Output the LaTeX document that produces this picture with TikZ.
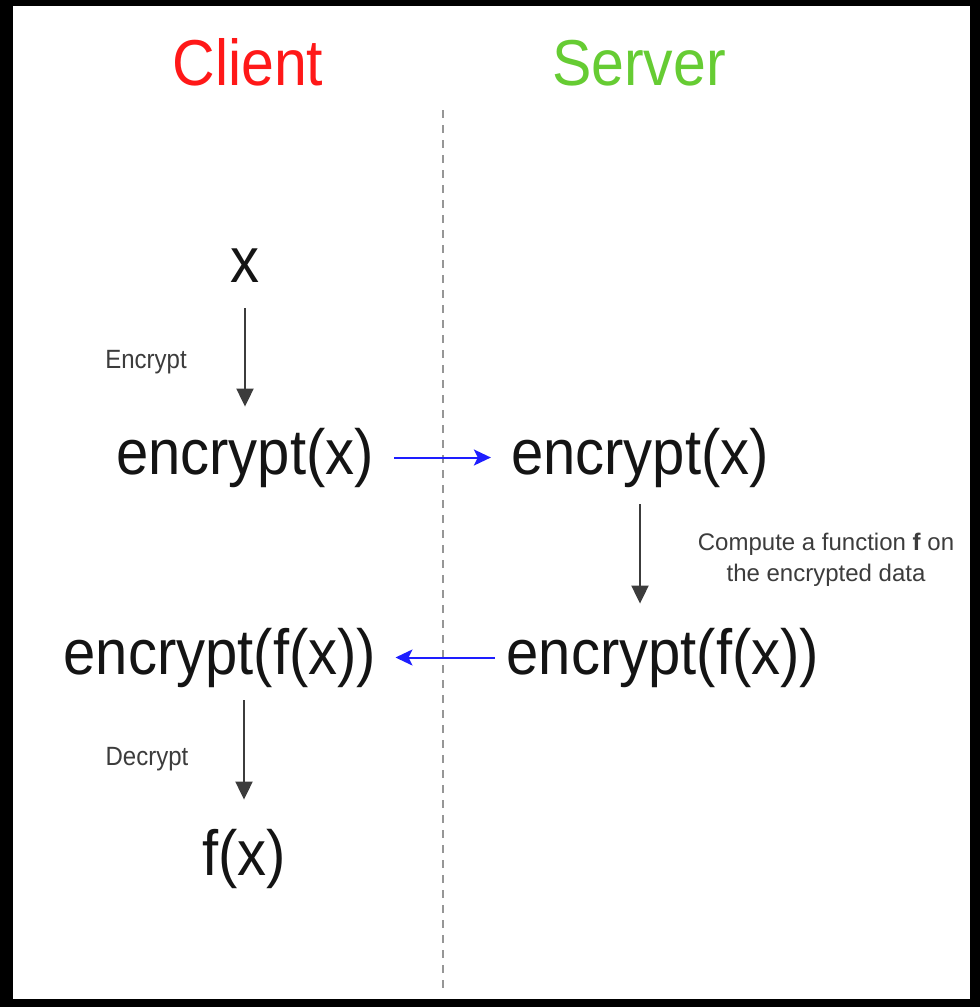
\documentclass[tikz,border=0pt]{standalone}
\usepackage{fontspec}
\setmainfont{Liberation Sans}
\usetikzlibrary{arrows.meta}

\definecolor{clientred}{RGB}{255,24,24}
\definecolor{servergreen}{RGB}{102,204,51}
\definecolor{flowblue}{RGB}{30,30,255}
\definecolor{inkdark}{RGB}{20,20,20}
\definecolor{labelgrey}{RGB}{60,60,60}
\definecolor{dividergrey}{RGB}{150,150,150}

% slightly tall lettering
\newcommand{\tallset}[1]{\scalebox{1}[1.1]{#1}}

\tikzset{
  bigtext/.style={inner sep=0pt, anchor=base, text=inkdark,
    font=\fontsize{58}{62}\selectfont},
  title/.style={bigtext, font=\fontsize{59}{62}\selectfont},
  steplabel/.style={inner sep=0pt, anchor=base, text=labelgrey, align=center,
    font=\fontsize{24}{31}\selectfont},
  downflow/.style={draw=labelgrey, line width=2pt,
    -{Triangle[length=18pt,width=17pt]}},
  sendflow/.style={draw=flowblue, line width=2pt,
    -{Stealth[length=17pt,width=16pt,inset=4pt]}},
  divider/.style={draw=dividergrey, line width=2pt, dash pattern=on 8pt off 7pt}
}

\begin{document}
\begin{tikzpicture}[x=1pt, y=-1pt]
  % page frame
  \useasboundingbox (0,0) rectangle (980,1007);
  \fill[black] (0,0) rectangle (980,1007);
  \fill[white] (13,6) rectangle (970,999);

  % column titles
  \node[title, text=clientred]   (client) at (248,85) {\tallset{Client}};
  \node[title, text=servergreen] (server) at (639,85) {\tallset{Server}};

  % divider between the two sides
  \coordinate (divtop) at (443,110);
  \coordinate (divbot) at (443,990);
  \draw[divider] (divtop) -- (divbot);

  % client side
  \node[bigtext] (xval)  at (245,282) {\tallset{x}};
  \node[bigtext] (encl)  at (245,474) {\tallset{encrypt(x)}};
  \node[bigtext] (efxl)  at (220,674) {\tallset{encrypt(f(x))}};
  \node[bigtext] (fxval) at (244,875) {\tallset{f(x)}};

  % server side
  \node[bigtext] (encr)  at (640,474) {\tallset{encrypt(x)}};
  \node[bigtext] (efxr)  at (663,674) {\tallset{encrypt(f(x))}};

  % step labels
  \node[steplabel] (lblenc) at (146,368) {\tallset{Encrypt}};
  \node[steplabel] (lbldec) at (147,765) {\tallset{Decrypt}};
  \node[steplabel] (lblfun) at (826,581)
    {Compute a function \textbf{f} on\\the encrypted data};

  % client-side steps
  \draw[downflow, shorten <=26pt, shorten >=21pt] (xval.south) -- (encl.north);
  \draw[downflow, shorten <=13pt, shorten >=29pt]
    (efxl.south -| fxval.north) -- (fxval.north);

  % server-side step
  \draw[downflow, shorten <=17pt, shorten >=24pt]
    (encr.south) -- (encr.south |- efxr.north);

  % transfers between client and server
  \draw[sendflow, shorten <=20pt, shorten >=20pt] (encl.east) -- (encr.west);
  \draw[sendflow, shorten <=12pt, shorten >=19pt] (efxr.west) -- (efxl.east);
\end{tikzpicture}
\end{document}
